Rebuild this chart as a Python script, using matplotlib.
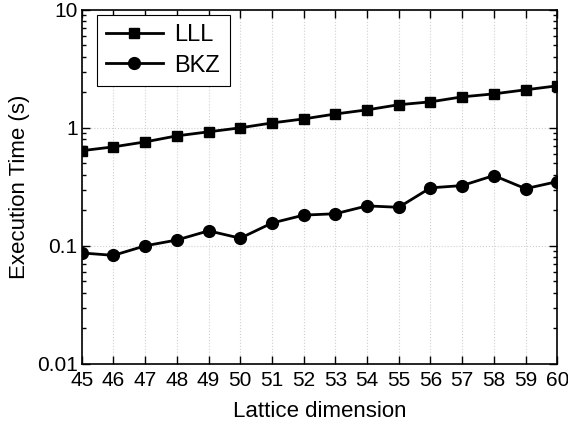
import matplotlib
matplotlib.use("Agg")
import matplotlib.pyplot as plt
from matplotlib.ticker import LogLocator, FixedLocator, FuncFormatter

plt.rcParams['font.family'] = ['Liberation Sans', 'DejaVu Sans']

dims = [45, 46, 47, 48, 49, 50, 51, 52, 53, 54, 55, 56, 57, 58, 59, 60]
lll_time = [0.64, 0.69, 0.76, 0.855, 0.925, 1.0, 1.10, 1.19, 1.31, 1.42,
            1.57, 1.66, 1.83, 1.94, 2.10, 2.27]
bkz_time = [0.087, 0.083, 0.10, 0.112, 0.134, 0.116, 0.156, 0.182, 0.187,
            0.218, 0.212, 0.31, 0.324, 0.394, 0.305, 0.35]

fig = plt.figure(figsize=(5.68, 4.28), dpi=100)
ax = fig.add_axes([0.144, 0.150, 0.837, 0.827])

ax.plot(dims, lll_time, '-s', color='black', lw=2, ms=7.5, label='LLL')
ax.plot(dims, bkz_time, '-o', color='black', lw=2, ms=8.5, label='BKZ')

ax.set_yscale('log')
ax.set_xlim(45, 60)
ax.set_ylim(0.01, 10)
ax.xaxis.set_major_locator(FixedLocator(dims))
ax.yaxis.set_major_locator(FixedLocator([0.01, 0.1, 1, 10]))
ax.yaxis.set_minor_locator(LogLocator(base=10, subs=range(2, 10)))
ax.yaxis.set_major_formatter(FuncFormatter(lambda v, p: f"{v:g}"))
ax.yaxis.set_minor_formatter(FuncFormatter(lambda v, p: ""))

ax.tick_params(which='both', direction='in', top=True, right=True,
               labelsize=15, width=1)
ax.tick_params(axis='x', pad=5)
ax.tick_params(axis='y', pad=3)
ax.tick_params(which='major', length=6)
ax.tick_params(which='minor', length=3)
for s in ax.spines.values():
    s.set_linewidth(1.2)

ax.grid(True, which='major', ls=':', color='#d0d0d0', lw=0.8)

ax.set_xlabel('Lattice dimension', fontsize=16, labelpad=8)
ax.set_ylabel('Execution Time (s)', fontsize=16, labelpad=5)

leg = ax.legend(loc='upper left', bbox_to_anchor=(0.031, 0.986),
                borderaxespad=0, fontsize=17, fancybox=False,
                edgecolor='black', framealpha=1, handlelength=2.4,
                handletextpad=0.5, labelspacing=0.35, markerscale=1.0)
leg.get_frame().set_linewidth(0.8)

fig.savefig('out.png', dpi=100)
